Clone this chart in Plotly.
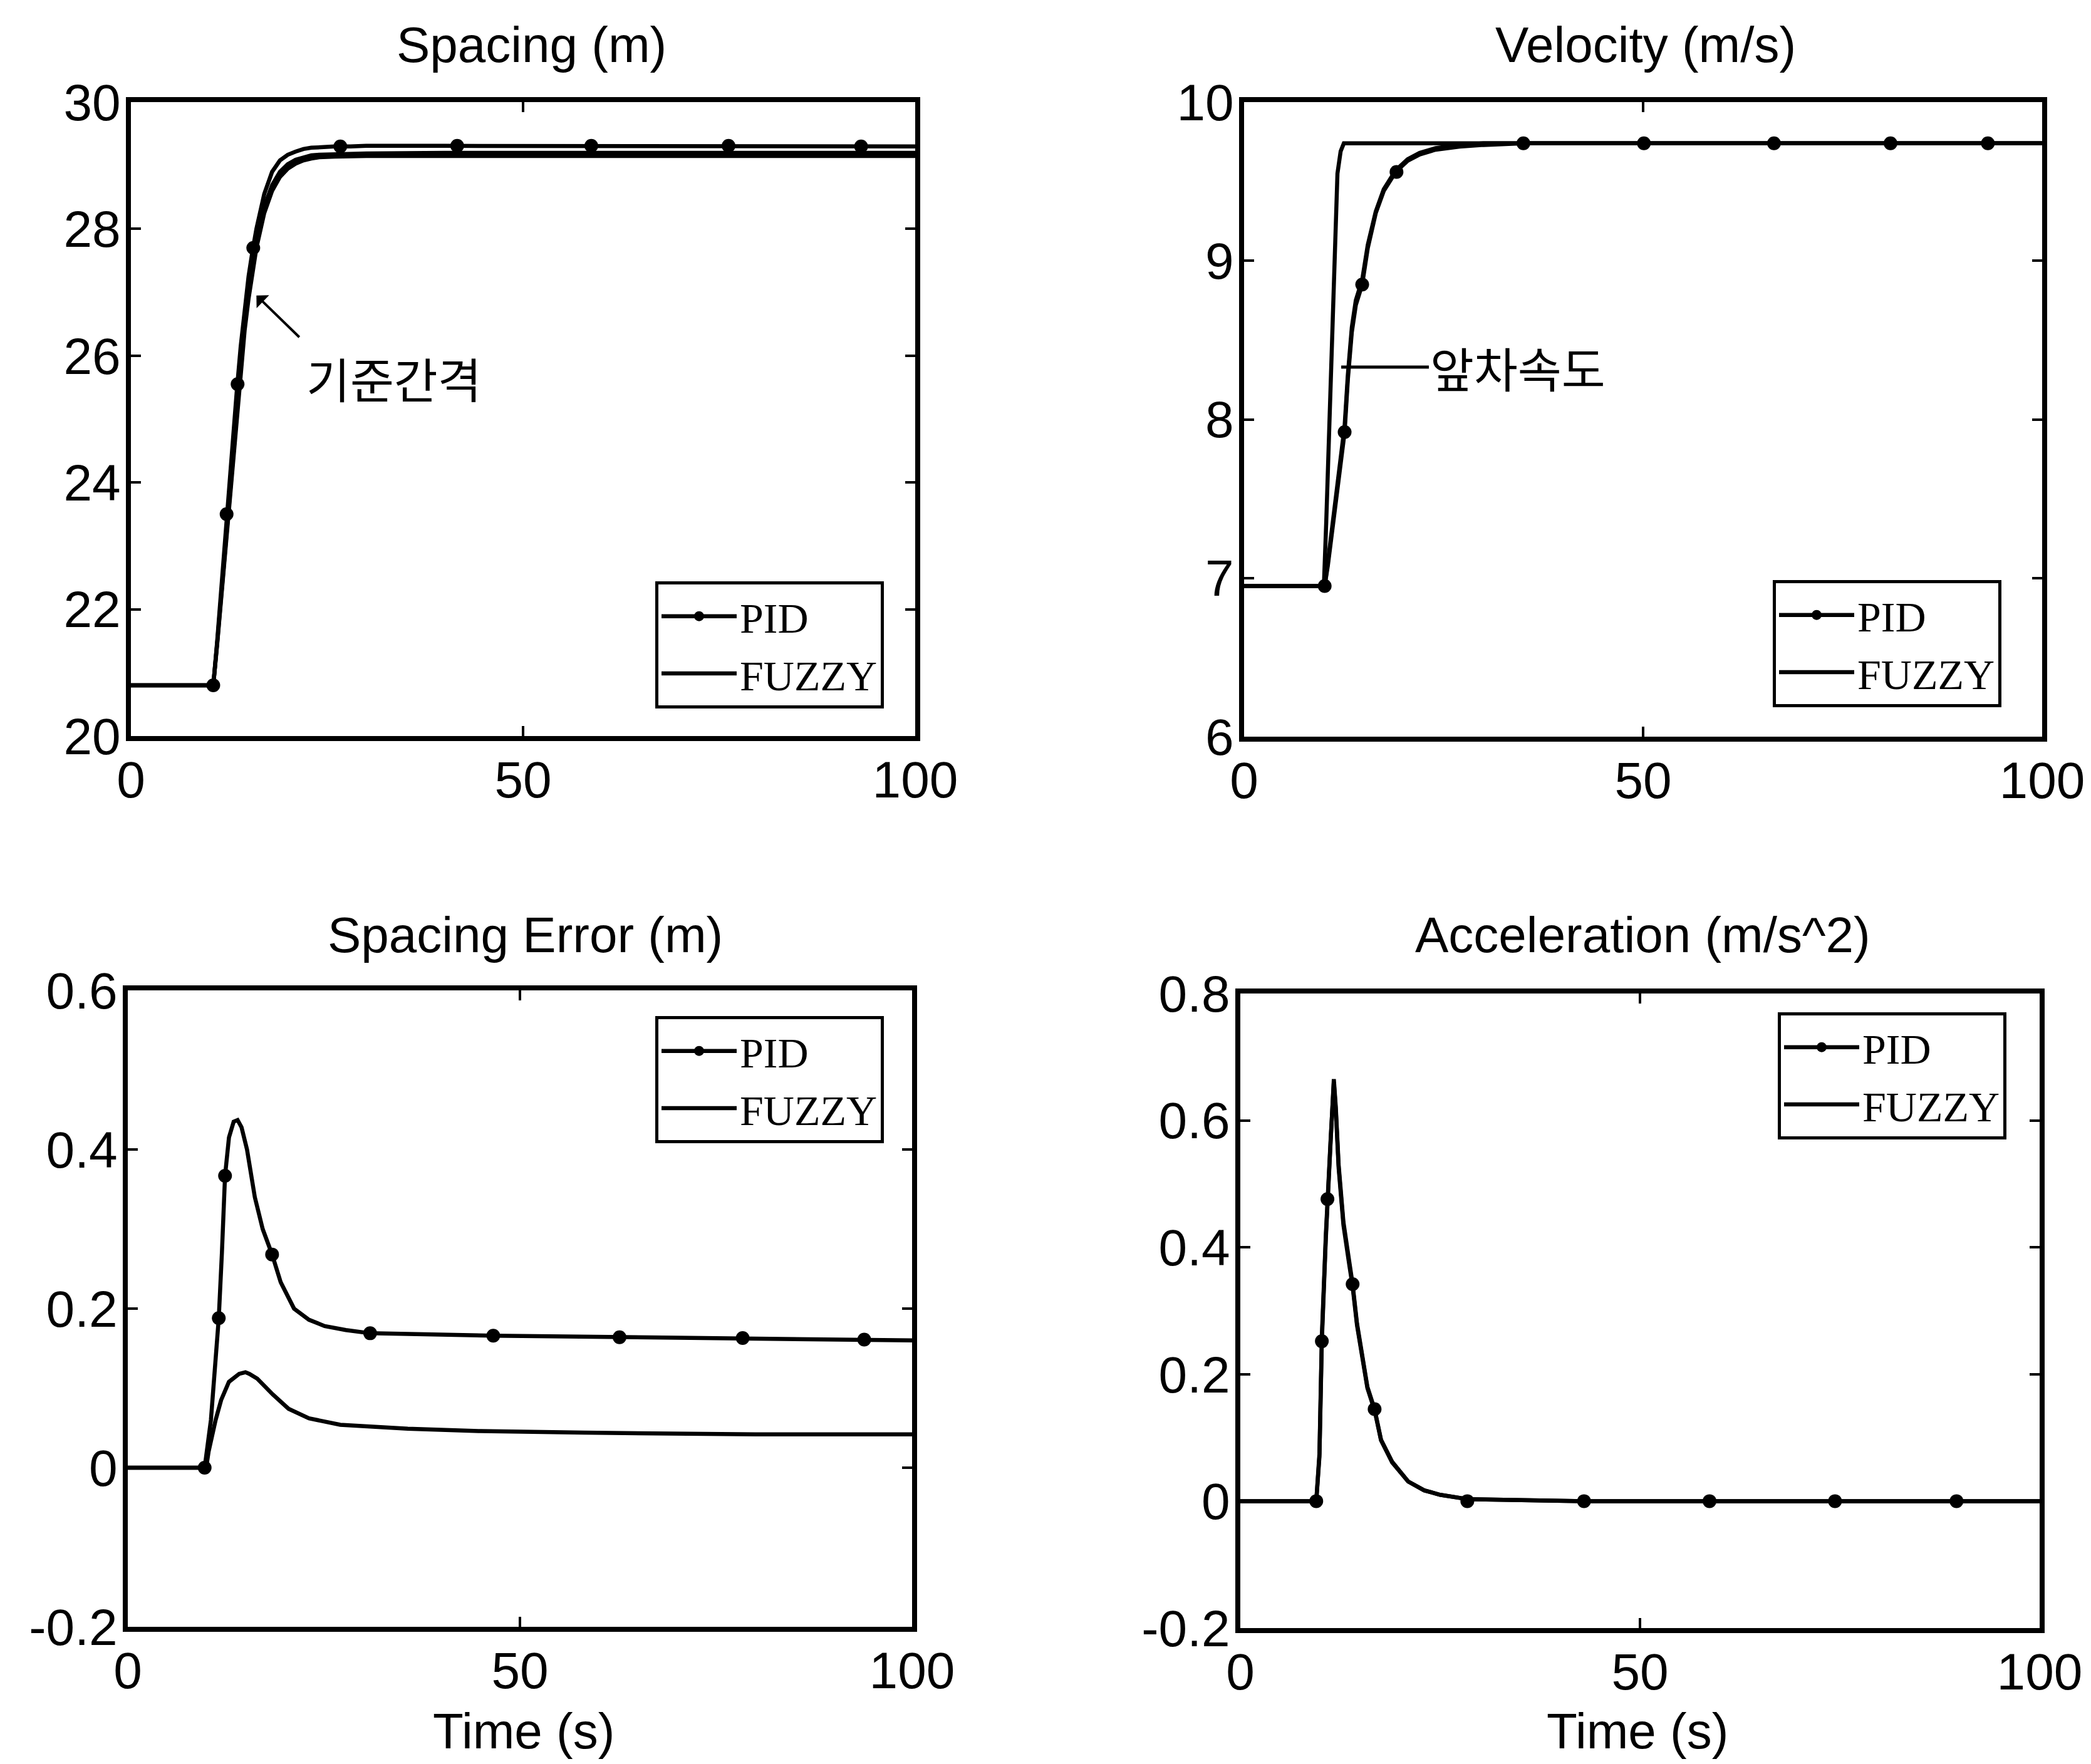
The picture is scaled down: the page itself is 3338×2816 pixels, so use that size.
import plotly.graph_objects as go

# ---------------- data ----------------
# Spacing (m)
sp_t = [0, 10.5, 11, 11.5, 12, 12.5, 13, 13.5, 14, 14.5, 15, 15.5, 16, 17, 18, 19, 20, 21, 22, 23, 24, 26, 28, 30, 40, 50, 60, 70, 80, 90, 100]
sp_ref = [20.8, 20.8, 21.45, 22.15, 22.9, 23.65, 24.4, 25.1, 25.8, 26.4, 26.9, 27.35, 27.7, 28.25, 28.6, 28.82, 28.95, 29.03, 29.08, 29.11, 29.13, 29.14, 29.15, 29.15, 29.15, 29.15, 29.15, 29.15, 29.15, 29.15, 29.15]
sp_pid = [20.8, 20.8, 21.5, 22.3, 23.15, 24.0, 24.8, 25.45, 26.15, 26.75, 27.25, 27.65, 28.0, 28.55, 28.9, 29.08, 29.17, 29.22, 29.26, 29.28, 29.29, 29.3, 29.3, 29.31, 29.31, 29.31, 29.31, 29.31, 29.31, 29.3, 29.3]
sp_fuzzy = [20.8, 20.8, 21.47, 22.2, 22.98, 23.75, 24.52, 25.22, 25.92, 26.52, 27.02, 27.47, 27.82, 28.35, 28.69, 28.9, 29.02, 29.09, 29.13, 29.16, 29.17, 29.18, 29.19, 29.19, 29.2, 29.2, 29.2, 29.2, 29.2, 29.2, 29.2]
sp_mk_t = [10.5, 12.2, 13.6, 15.6, 26.7, 41.6, 58.7, 76.2, 93.1]
sp_mk_v = [20.8, 23.5, 25.55, 27.7, 29.3, 29.31, 29.31, 29.31, 29.3]

# Velocity (m/s)
lead_t = [0, 10, 10.3, 10.8, 11.3, 11.7, 12.1, 12.5, 100]
lead_v = [6.95, 6.95, 7.36, 8.19, 9.03, 9.55, 9.69, 9.74, 9.74]
ve_t = [0, 10.1, 10.5, 11, 11.5, 12, 12.6, 13, 13.5, 14, 14.8, 15.5, 16.5, 17.5, 19, 20.5, 22, 24, 27, 30, 35, 50, 100]
ve_pid = [6.95, 6.95, 7.08, 7.28, 7.48, 7.68, 7.92, 8.25, 8.55, 8.72, 8.85, 9.08, 9.3, 9.44, 9.56, 9.63, 9.67, 9.7, 9.72, 9.73, 9.74, 9.74, 9.74]
ve_fuzzy = [6.95, 6.95, 7.1, 7.31, 7.52, 7.72, 7.96, 8.28, 8.58, 8.75, 8.88, 9.1, 9.31, 9.45, 9.57, 9.64, 9.68, 9.71, 9.73, 9.74, 9.74, 9.74, 9.74]
ve_mk_t = [10.1, 12.6, 14.8, 19.1, 35, 50.1, 66.4, 81, 93.2]
ve_mk_v = [6.95, 7.92, 8.85, 9.56, 9.74, 9.74, 9.74, 9.74, 9.74]

# Spacing error (m)
er_pid_t = [0, 9.8, 10.6, 11.2, 11.6, 12.0, 12.4, 12.9, 13.5, 14.0, 14.5, 15.2, 16.2, 17.2, 18.4, 19.5, 21.2, 23.1, 25.1, 27.8, 30.9, 46.6, 62.7, 78.4, 100]
er_pid = [0, 0, 0.06, 0.144, 0.188, 0.27, 0.367, 0.415, 0.435, 0.437, 0.428, 0.40, 0.34, 0.30, 0.268, 0.233, 0.20, 0.186, 0.178, 0.173, 0.169, 0.166, 0.164, 0.163, 0.16]
er_fz_t = [0, 10, 10.3, 11.2, 11.9, 12.9, 14.2, 15.0, 15.5, 16.5, 18.5, 20.5, 23.1, 27.1, 35.7, 45, 58.2, 80, 100]
er_fuzzy = [0, 0, 0.02, 0.06, 0.085, 0.108, 0.118, 0.12, 0.118, 0.112, 0.092, 0.074, 0.062, 0.054, 0.049, 0.046, 0.044, 0.042, 0.042]
er_mk_t = [9.8, 11.6, 12.4, 18.4, 30.9, 46.6, 62.7, 78.4, 93.9]
er_mk_v = [0, 0.188, 0.367, 0.268, 0.169, 0.166, 0.164, 0.163, 0.161]

# Acceleration (m/s^2)
ac_t = [0, 9.5, 9.9, 10.2, 10.7, 10.9, 11.3, 11.7, 11.95, 12.3, 12.9, 13.6, 14.05, 14.6, 15.3, 15.9, 16.8, 17.6, 19, 21, 23, 25, 28.5, 43, 100]
ac_pid = [0, 0, 0.07, 0.252, 0.414, 0.476, 0.567, 0.665, 0.62, 0.53, 0.44, 0.38, 0.342, 0.28, 0.227, 0.18, 0.145, 0.097, 0.062, 0.031, 0.017, 0.01, 0.003, 0, 0]
ac_fuzzy = [0, 0, 0.075, 0.26, 0.42, 0.48, 0.57, 0.66, 0.615, 0.525, 0.435, 0.375, 0.338, 0.277, 0.225, 0.178, 0.143, 0.096, 0.061, 0.031, 0.017, 0.01, 0.003, 0, 0]
ac_mk_t = [9.5, 10.2, 10.9, 14.05, 16.8, 28.4, 43, 58.7, 74.4, 89.6]
ac_mk_v = [0, 0.252, 0.476, 0.342, 0.145, 0, 0, 0, 0, 0]

# ticks
x_ticks = [0, 50, 100]
x_ticktext = ["0", "50", "100"]
sp_ticks = [20, 22, 24, 26, 28, 30]
sp_ticktext = ["20", "22", "24", "26", "28", "30"]
ve_ticks = [6, 7, 8, 9, 10]
ve_ticktext = ["6", "7", "8", "9", "10"]
er_ticks = [-0.2, 0, 0.2, 0.4, 0.6]
er_ticktext = ["-0.2", "0", "0.2", "0.4", "0.6"]
ac_ticks = [-0.2, 0, 0.2, 0.4, 0.6, 0.8]
ac_ticktext = ["-0.2", "0", "0.2", "0.4", "0.6", "0.8"]

titles = ["Spacing (m)", "Velocity (m/s)", "Spacing Error (m)", "Acceleration (m/s^2)"]
xlabel = "Time (s)"
names = ["PID", "FUZZY"]
notes = ["기준간격", "앞차속도"]

# ---------------- styling ----------------
W, H = 3338, 2816
SANS = "Liberation Sans, Arial, sans-serif"
SERIF = "Liberation Serif, Times New Roman, serif"
KR = "Noto Sans CJK KR"
LW = 6.5
MS = 22
BLACK = "black"

fig = go.Figure()

def add_panel(k, pid_t, pid_v, fz_t, fz_v, mk_t, mk_v, extra=None):
    xa = "x" if k == 1 else f"x{k}"
    ya = "y" if k == 1 else f"y{k}"
    lg = "legend" if k == 1 else f"legend{k}"
    if extra is not None:
        fig.add_trace(go.Scatter(x=extra[0], y=extra[1], mode="lines", line=dict(color=BLACK, width=LW),
                                 xaxis=xa, yaxis=ya, showlegend=False, hoverinfo="skip"))
    fig.add_trace(go.Scatter(x=pid_t, y=pid_v, mode="lines", line=dict(color=BLACK, width=LW),
                             xaxis=xa, yaxis=ya, showlegend=False))
    fig.add_trace(go.Scatter(x=mk_t, y=mk_v, mode="markers", marker=dict(color=BLACK, size=MS),
                             xaxis=xa, yaxis=ya, showlegend=False))
    # legend proxy for PID
    fig.add_trace(go.Scatter(x=[None], y=[None], mode="lines+markers", name=names[0],
                             line=dict(color=BLACK, width=LW), marker=dict(color=BLACK, size=MS),
                             xaxis=xa, yaxis=ya, legend=lg))
    fig.add_trace(go.Scatter(x=fz_t, y=fz_v, mode="lines", name=names[1],
                             line=dict(color=BLACK, width=LW), xaxis=xa, yaxis=ya, legend=lg))

add_panel(1, sp_t, sp_pid, sp_t, sp_fuzzy, sp_mk_t, sp_mk_v, extra=(sp_t, sp_ref))
add_panel(2, ve_t, ve_pid, ve_t, ve_fuzzy, ve_mk_t, ve_mk_v, extra=(lead_t, lead_v))
add_panel(3, er_pid_t, er_pid, er_fz_t, er_fuzzy, er_mk_t, er_mk_v)
add_panel(4, ac_t, ac_pid, ac_t, ac_fuzzy, ac_mk_t, ac_mk_v)

def px_dom_x(a, b):
    return [a / W, b / W]

def px_dom_y(top, bottom):
    return [1 - bottom / H, 1 - top / H]

def axis_common():
    return dict(showline=True, linecolor=BLACK, linewidth=8, mirror="allticks",
                ticks="inside", ticklen=16, tickwidth=4, tickcolor=BLACK,
                showgrid=False, zeroline=False, automargin=False,
                tickfont=dict(family=SANS, size=82, color=BLACK))

boxes = {
    1: (201, 1453, 155, 1167),
    2: (1978, 3252, 155, 1168),
    3: (196, 1448, 1573, 2589),
    4: (1972, 3248, 1578, 2591),
}
yinfo = {
    1: ([20, 30], sp_ticks, sp_ticktext),
    2: ([6, 10], ve_ticks, ve_ticktext),
    3: ([-0.2, 0.6], er_ticks, er_ticktext),
    4: ([-0.2, 0.8], ac_ticks, ac_ticktext),
}
layout_axes = {}
for k, (x0, x1, y0, y1) in boxes.items():
    xn = "xaxis" if k == 1 else f"xaxis{k}"
    yn = "yaxis" if k == 1 else f"yaxis{k}"
    xa = dict(axis_common(), domain=px_dom_x(x0, x1), range=[0, 100], tickvals=x_ticks,
              ticktext=x_ticktext, anchor="y" if k == 1 else f"y{k}", ticklabelstandoff=-8)
    rng, tv, tt = yinfo[k]
    ya = dict(axis_common(), domain=px_dom_y(y0, y1), range=rng, tickvals=tv, ticktext=tt,
              anchor="x" if k == 1 else f"x{k}", ticklabelstandoff=-8)
    layout_axes[xn] = xa
    layout_axes[yn] = ya

def legend_at(xpx, ypx):
    return dict(x=xpx / W, y=1 - ypx / H, xanchor="left", yanchor="top",
                bgcolor="white", bordercolor=BLACK, borderwidth=5,
                font=dict(family=SERIF, size=68, color=BLACK), itemwidth=120,
                traceorder="normal", tracegroupgap=0)

fig.update_layout(
    template="none",
    width=W, height=H, autosize=False, paper_bgcolor="white", plot_bgcolor="white",
    margin=dict(l=0, r=0, t=0, b=0, pad=0, autoexpand=False),
    legend=legend_at(1038, 920),
    legend2=legend_at(2822, 918),
    legend3=legend_at(1038, 1614),
    legend4=legend_at(2830, 1608),
    **layout_axes,
)

annots = []
title_pos = [(841, 64), (2619, 64), (830, 1484), (2614, 1484)]
for txt, (cx, cy) in zip(titles, title_pos):
    annots.append(dict(text=txt, x=cx / W, y=1 - cy / H, xref="paper", yref="paper",
                       showarrow=False, xanchor="center", yanchor="middle",
                       font=dict(family=SANS, size=80, color=BLACK)))
for cx in (828, 2606):
    annots.append(dict(text=xlabel, x=cx / W, y=1 - 2755 / H, xref="paper", yref="paper",
                       showarrow=False, xanchor="center", yanchor="middle",
                       font=dict(family=SANS, size=80, color=BLACK)))
# pointer for reference spacing
annots.append(dict(text="", x=16.0, y=26.95, xref="x", yref="y",
                   showarrow=True, arrowhead=1, arrowsize=1.2, arrowwidth=4, arrowcolor=BLACK,
                   ax=70, ay=68))
annots.append(dict(text=notes[0], x=16.0, y=26.95, xref="x", yref="y",
                   showarrow=False, xshift=78, yshift=-74, xanchor="left", yanchor="top",
                   font=dict(family=KR, size=76, color=BLACK)))
annots.append(dict(text=notes[1], x=12.17, y=8.33, xref="x2", yref="y2",
                   showarrow=True, arrowhead=0, arrowwidth=5, arrowcolor=BLACK,
                   ax=140, ay=0, xanchor="left", yanchor="middle",
                   font=dict(family=KR, size=76, color=BLACK)))
fig.update_layout(annotations=annots)

fig.write_html("out.html")
